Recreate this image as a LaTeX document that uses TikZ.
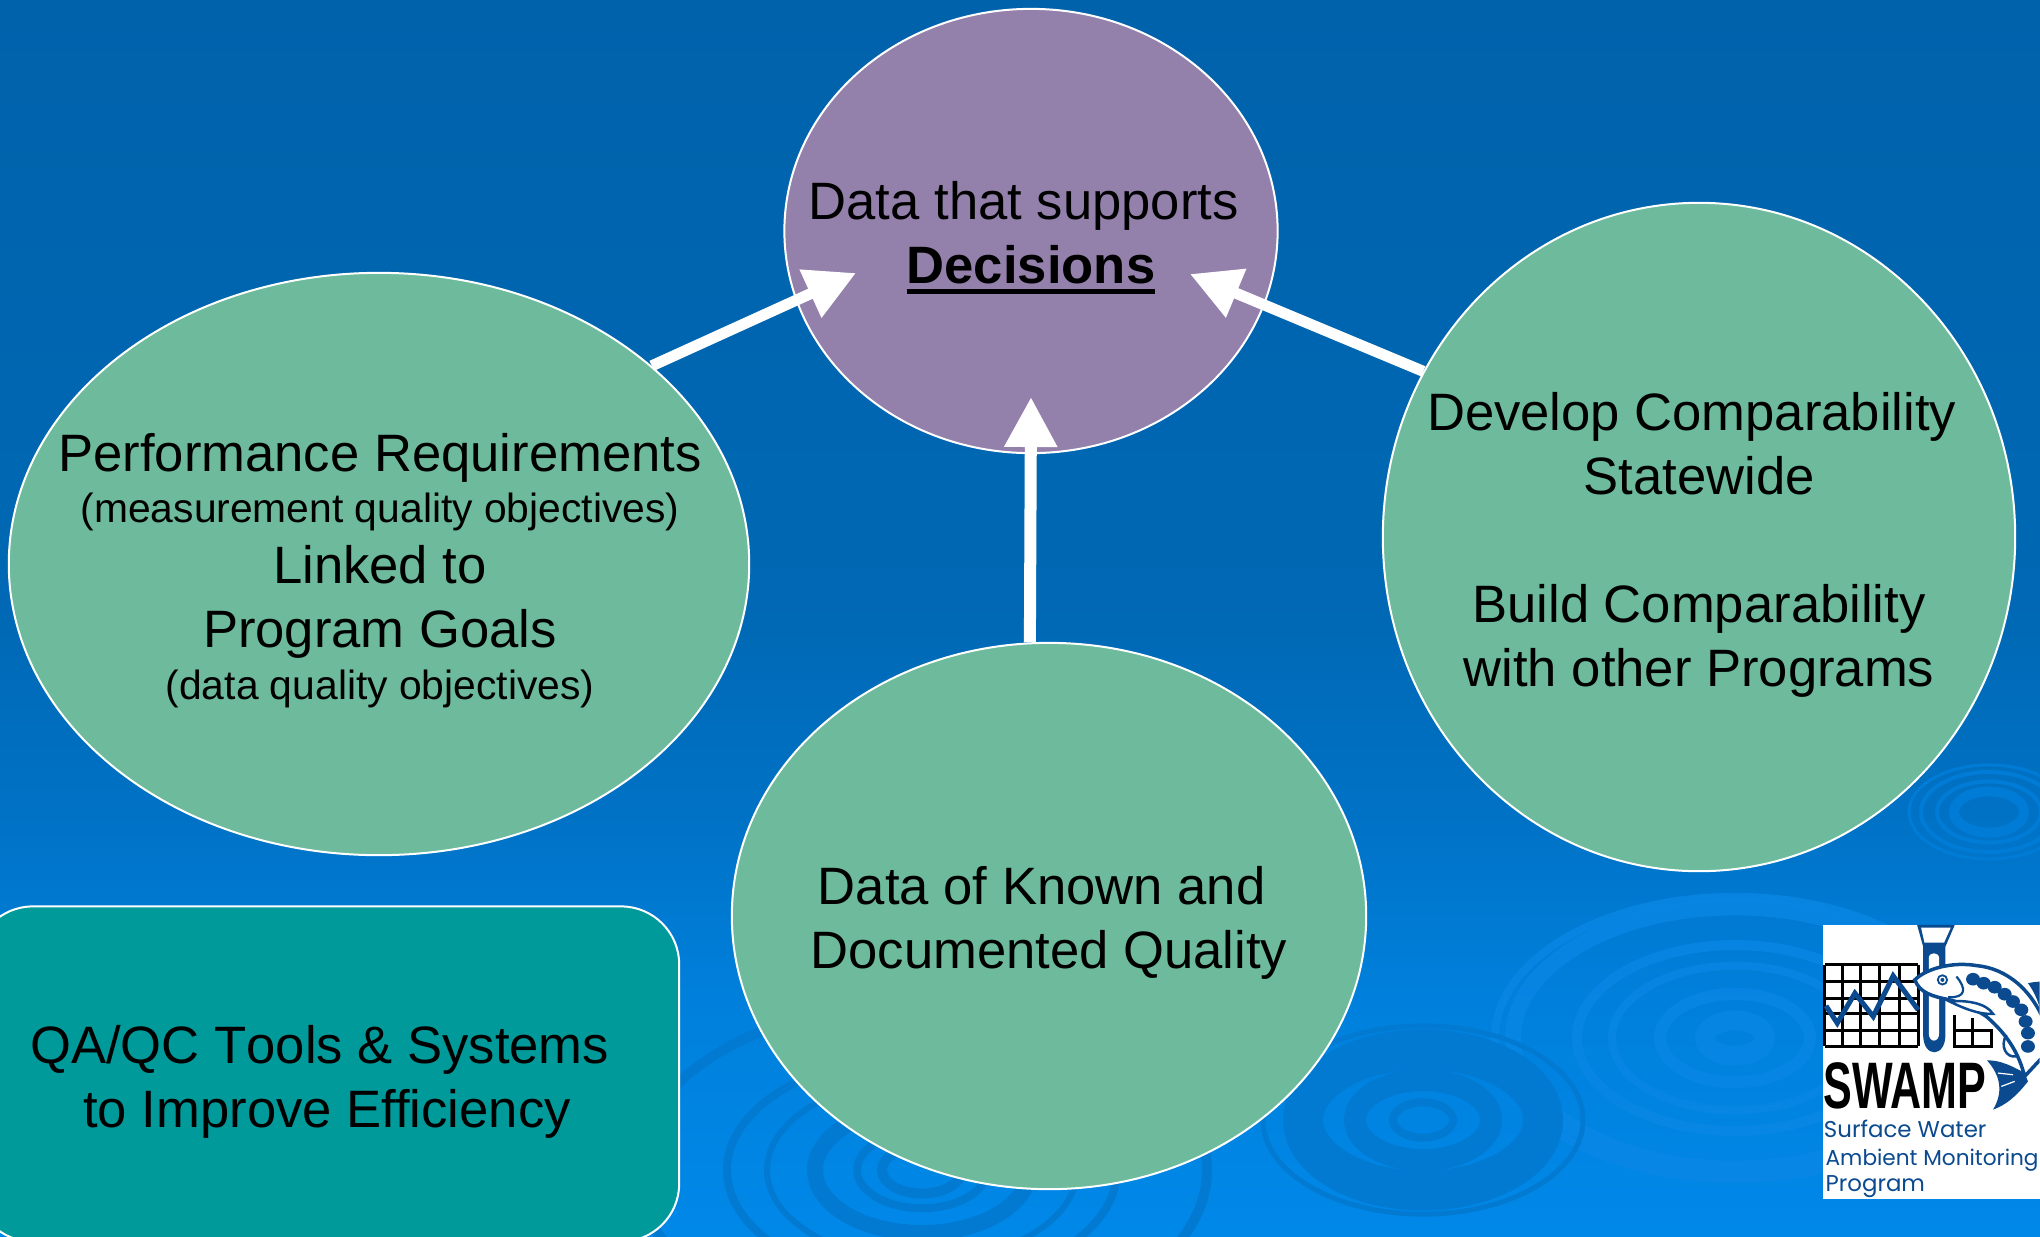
\documentclass[tikz,border=0pt]{standalone}
\usepackage{fontspec}
\setmainfont{Liberation Sans}
\newfontfamily\logofont{Poppins}
\usetikzlibrary{arrows.meta,shapes.geometric,positioning}

\definecolor{blobgreen}{HTML}{6DBB9C}
\definecolor{blobpurple}{HTML}{9381AC}
\definecolor{boxteal}{HTML}{009A9A}
\definecolor{logoblue}{HTML}{0B4A8F}
\definecolor{ripplelight}{HTML}{0A87E6}
\definecolor{rippledark}{HTML}{037AD2}
\definecolor{rippletop}{HTML}{007CD6}
\definecolor{seaA}{HTML}{0088E8}
\definecolor{seaB}{HTML}{0080DC}
\definecolor{seaC}{HTML}{0071C4}
\definecolor{seaD}{HTML}{0068B4}
\definecolor{seaE}{HTML}{0062AB}

\pgfdeclareverticalshading{seabg}{100bp}{
  color(0bp)=(seaA); color(25bp)=(seaA); color(34.5bp)=(seaB); color(42.6bp)=(seaC);
  color(50.7bp)=(seaD); color(75bp)=(seaE); color(100bp)=(seaE)}

\newcommand{\trailsp}{\hspace*{.278em}}
\newcommand{\smalltxt}[1]{{\fontsize{11.6}{18.2}\selectfont #1}}
\newcommand{\thickunder}[1]{\setbox0\hbox{#1}\rlap{\rule[-3pt]{\wd0}{1.5pt}}\box0}

\tikzset{
  blob/.style={ellipse,draw=white,line width=0.02cm,fill=blobgreen,inner sep=0pt},
  bodytext/.style={align=center,text=black,font=\fontsize{14.96}{18.2}\selectfont},
  flowarrow/.style={draw=white,line width=0.11cm,-{Triangle[length=0.5cm,width=0.5cm]}},
  logogrid/.style={draw=black,line width=0.03cm},
  logotext/.style={anchor=base west,text=logoblue,inner sep=0pt,font=\logofont\fontsize{6.5}{7}\selectfont}
}

\begin{document}
\begin{tikzpicture}[x=0.01cm,y=-0.01cm]
  \useasboundingbox (0,0) rectangle (2040,1236);
  \shade[shading=seabg] (0,0) rectangle (2040,1236); %Backdrop

  %Draw ripples
  \pgfmathsetmacro {\rr}{1.7} %Ripple width over height
  \foreach \ra/\lw in {240/8,222/16,158/10,123/8,75/12,30/20}
    \draw[ripplelight,opacity=0.75,line width=\lw*0.01cm] (1735,1038) ellipse ({\ra} and {\ra/\rr});
  \foreach \ra/\lw in {120/40,68/22,30/8,160/5}
    \draw[rippledark,line width=\lw*0.01cm] (1423,1120) ellipse ({\ra} and {\ra/\rr});
  \foreach \ra/\lw in {107/16,65/8,40/10,155/6,195/8,285/10}
    \draw[rippledark,line width=\lw*0.01cm] (922,1170) ellipse ({\ra} and {\ra/\rr});
  \foreach \ra/\lw in {35/10,52/4,68/4,80/3}
    \draw[rippletop,line width=\lw*0.01cm] (1989,812) ellipse ({\ra} and {\ra/\rr});

  %Draw the four ellipses
  \node[blob,fill=blobpurple,minimum width=4.93cm,minimum height=4.44cm] (decisions) at (1031,231) {};
  \node[blob,minimum width=7.40cm,minimum height=5.82cm] (perf) at (379,564) {};
  \node[blob,minimum width=6.32cm,minimum height=6.68cm] (compare) at (1699,537) {};
  \node[blob,minimum width=6.34cm,minimum height=5.46cm] (quality) at (1049,916) {};

  %Box in the corner
  \node[draw=white,line width=0.02cm,fill=boxteal,rounded corners=0.58cm,
        minimum width=7.04cm,minimum height=3.35cm] (tools) at (327,1074) {};
  \node[bodytext] (toolsText) at (327,1082)
        {{\addfontfeature{Kerning=Off}QA/QC Tools \& Systems}\trailsp\\to Improve Efficiency};

  %Ellipse texts
  \node[bodytext] (decisionsText) at (1031,238)
        {Data that supports\trailsp\\\textbf{\thickunder{Decisions}}};
  \node[bodytext] (perfText) at (380,570.5)
        {Performance Requirements\\[-3.6pt]\smalltxt{(measurement quality objectives)}\\[-0.9pt]
         Linked to\\Program Goals\\[-3.6pt]\smalltxt{(data quality objectives)}};
  \node[bodytext] (compareText) at (1699,544.5)
        {Develop Comparability\trailsp\\Statewide\\ \\Build Comparability\\with other Programs};
  \node[bodytext] (qualityText) at (1049,923)
        {Data of Known and\trailsp\\Documented Quality};

  %Draw arrows into the top ellipse
  \coordinate (tipLeft) at ([shift={(-175,42)}]decisions.center);
  \coordinate (tipRight) at ([shift={(159,43)}]decisions.center);
  \coordinate (tipDown) at ([shift={(0,166)}]decisions.center);
  \draw[flowarrow] (perf.36.2) -- (tipLeft);
  \draw[flowarrow] (compare.149.4) -- (tipRight);
  \draw[flowarrow,line width=0.12cm] (quality.94.6) -- (tipDown);

  %Logo, coordinates are taken at three times the size
  \fill[white] (1823,925) rectangle (2040,1199);
  \begin{scope}[shift={(1780,900)},x=0.003333cm,y=-0.003333cm]
    \clip (129,75) rectangle (780,897);
    \foreach \gx in {135,187,243,300,358,415}
      \draw[logogrid] (\gx,195) -- (\gx,440);
    \foreach \gy in {195,245,295,342,392,440}
      \draw[logogrid] (135,\gy) -- (415,\gy);
    \draw[logogrid] (525,345) -- (525,440) -- (635,440) -- (635,392) -- (525,392);
    \draw[logogrid] (578,355) -- (578,440);
    %Tube
    \fill[logoblue] (412,75) -- (525,75) -- (497,140) -- (497,405)
         .. controls (497,475) and (430,475) .. (430,405) -- (430,140) -- cycle;
    \fill[white] (424,83) -- (513,83) -- (493,128) -- (434,128) -- cycle;
    \fill[white] (447,175) .. controls (447,155) and (478,155) .. (478,175) -- (478,400)
         .. controls (478,430) and (447,430) .. (447,400) -- cycle;
    \draw[logoblue,line width=0.05cm] (138,318) -- (172,370) -- (225,280) -- (280,350) -- (340,228) -- (415,330);
    %Fish
    \filldraw[fill=white,draw=logoblue,line width=0.035cm] (405,240)
         .. controls (440,205) and (520,185) .. (590,197)
         .. controls (680,205) and (760,270) .. (800,380) -- (800,460) -- (735,530)
         .. controls (720,470) and (690,410) .. (620,350)
         .. controls (590,330) and (550,310) .. (510,300)
         .. controls (460,290) and (420,280) .. (405,240) -- cycle;
    \fill[logoblue] (622,482) .. controls (660,480) and (700,500) .. (735,520)
         -- (745,545) .. controls (710,590) and (680,615) .. (640,630)
         .. controls (670,580) and (665,530) .. (622,482) -- cycle;
    \draw[white,line width=0.012cm] (655,520) -- (700,525) (665,560) -- (705,545);
    \fill[logoblue] (745,250) .. controls (765,245) and (785,245) .. (800,245) -- (800,330) -- (780,325)
         .. controls (775,300) and (760,270) .. (745,250) -- cycle;
    \foreach \sx/\sy in {580/238,612/250,645/262,675/283,700/305,725/330,738/365,745/400,745/440}
      \fill[logoblue] (\sx,\sy) ellipse (21 and 19);
    \filldraw[fill=white,draw=logoblue,line width=0.018cm] (488,240) circle (14);
    \fill[logoblue] (488,240) circle (6);
    \draw[logoblue,line width=0.022cm] (530,230) .. controls (560,265) and (560,295) .. (505,292);
    \filldraw[fill=white,draw=logoblue,line width=0.025cm] (510,305)
         .. controls (560,300) and (620,310) .. (640,342)
         .. controls (600,345) and (550,325) .. (510,305) -- cycle;
    \draw[logoblue,line width=0.025cm] (680,405) .. controls (660,440) and (680,475) .. (710,470);
    %Lettering
    \node[anchor=base west,inner sep=0pt,xscale=0.655,text=black,font=\bfseries\fontsize{18.7}{20}\selectfont]
         (logoName) at (130,627) {SWAMP};
    \node[logotext] (logoLine1) at (130,715) {Surface Water};
    \node[logotext,font=\logofont\fontsize{6.15}{7}\selectfont] (logoLine2) at (135,797) {Ambient Monitoring};
    \node[logotext] (logoLine3) at (135,875) {Program};
  \end{scope}
\end{tikzpicture}
\end{document}
